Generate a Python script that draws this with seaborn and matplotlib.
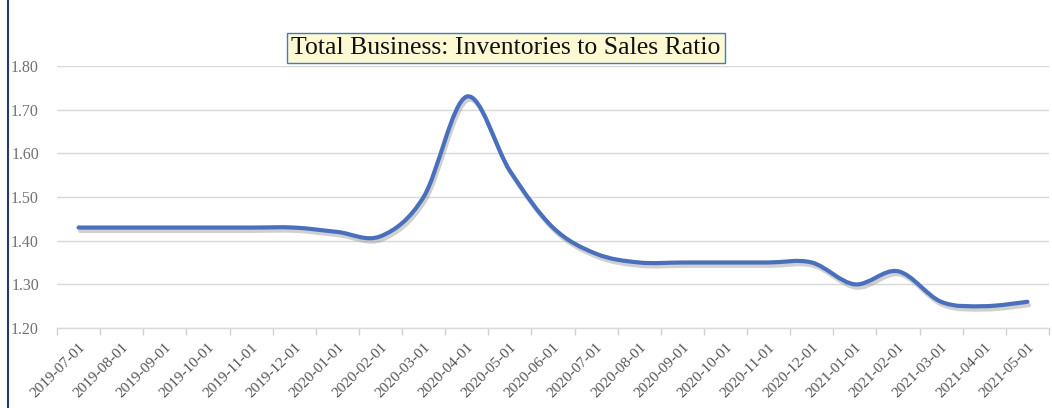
import numpy as np
import pandas as pd
import matplotlib
matplotlib.use("Agg")
import matplotlib.pyplot as plt
import matplotlib.patheffects as pe
from matplotlib.path import Path
from matplotlib.patches import PathPatch
from matplotlib.lines import Line2D
import seaborn as sns

# Monthly inventories-to-sales ratio, total business
months = [
    "2019-07-01", "2019-08-01", "2019-09-01", "2019-10-01", "2019-11-01",
    "2019-12-01", "2020-01-01", "2020-02-01", "2020-03-01", "2020-04-01",
    "2020-05-01", "2020-06-01", "2020-07-01", "2020-08-01", "2020-09-01",
    "2020-10-01", "2020-11-01", "2020-12-01", "2021-01-01", "2021-02-01",
    "2021-03-01", "2021-04-01", "2021-05-01",
]
ratio = [
    1.43, 1.43, 1.43, 1.43, 1.43,
    1.43, 1.42, 1.41, 1.50, 1.73,
    1.56, 1.43, 1.37, 1.35, 1.35,
    1.35, 1.35, 1.35, 1.30, 1.33,
    1.26, 1.25, 1.26,
]
y_ticks = [1.20, 1.30, 1.40, 1.50, 1.60, 1.70, 1.80]
title = "Total Business: Inventories to Sales Ratio"

df = pd.DataFrame({"pos": np.arange(len(months)), "ratio": ratio})

sns.set_theme(style="white")
plt.rcParams["font.family"] = ["Liberation Serif", "DejaVu Serif"]

fig = plt.figure(figsize=(10.52, 4.08), dpi=100)
ax = fig.add_axes([57 / 1052, 1 - 328 / 408, (1049 - 57) / 1052, (328 - 66) / 408])

# seaborn places the series on the axes; the drawn curve is a smoothed
# Bezier path through the same points
sns.lineplot(data=df, x="pos", y="ratio", ax=ax, color="#4a70bd", linewidth=3)
base = ax.lines[0]
xy = base.get_xydata()
base.set_visible(False)

pts = np.vstack([xy[0], xy, xy[-1]])
verts = [tuple(xy[0])]
codes = [Path.MOVETO]
for i in range(1, len(pts) - 2):
    p0, p1, p2, p3 = pts[i - 1], pts[i], pts[i + 1], pts[i + 2]
    c1 = p1 + (p2 - p0) / 6.0
    c2 = p2 - (p3 - p1) / 6.0
    verts += [tuple(c1), tuple(c2), tuple(p2)]
    codes += [Path.CURVE4] * 3
curve = PathPatch(Path(verts, codes), fill=False, edgecolor="#4a70bd",
                  linewidth=3, capstyle="round", joinstyle="round", zorder=3)
curve.set_path_effects([
    pe.SimpleLineShadow(offset=(1.2, -2.4), shadow_color="#8a8a8a", alpha=0.4),
    pe.Normal(),
])
ax.add_patch(curve)

ax.set_xlim(-0.5, len(months) - 0.5)
ax.set_ylim(1.20, 1.80)
ax.set_yticks(y_ticks)
ax.set_yticklabels([f"{v:.2f}" for v in y_ticks], color="#707070", fontsize=11.5)
ax.yaxis.grid(True, color="#d9d9d9", linewidth=1)
ax.xaxis.grid(False)
ax.tick_params(axis="y", length=0, pad=13)

ax.set_xticks(np.arange(len(months)))
ax.set_xticklabels(months, rotation=45, ha="right", va="top",
                   rotation_mode="anchor", color="#555555", fontsize=11)
ax.set_xticks(np.arange(len(months) + 1) - 0.5, minor=True)
ax.tick_params(axis="x", which="major", length=0, pad=9)
ax.tick_params(axis="x", which="minor", length=5, color="#d0d0d0", width=1,
               bottom=True)

for side in ["top", "right", "left"]:
    ax.spines[side].set_visible(False)
ax.spines["bottom"].set_color("#d9d9d9")
ax.spines["bottom"].set_linewidth(1)
ax.set_xlabel("")
ax.set_ylabel("")

fig.text(506 / 1052, 1 - 48 / 408, title, ha="center", va="center",
         fontsize=18.5, color="#111111",
         bbox=dict(boxstyle="square,pad=0.16", facecolor="#fdf9d3",
                   edgecolor="#3f7cc4", linewidth=1))

# left edge of the chart frame
fig.add_artist(Line2D([7.5 / 1052, 7.5 / 1052], [0, 1], color="#1f3a6e",
                      linewidth=1.5, transform=fig.transFigure))

fig.savefig("out.png", dpi=100)
